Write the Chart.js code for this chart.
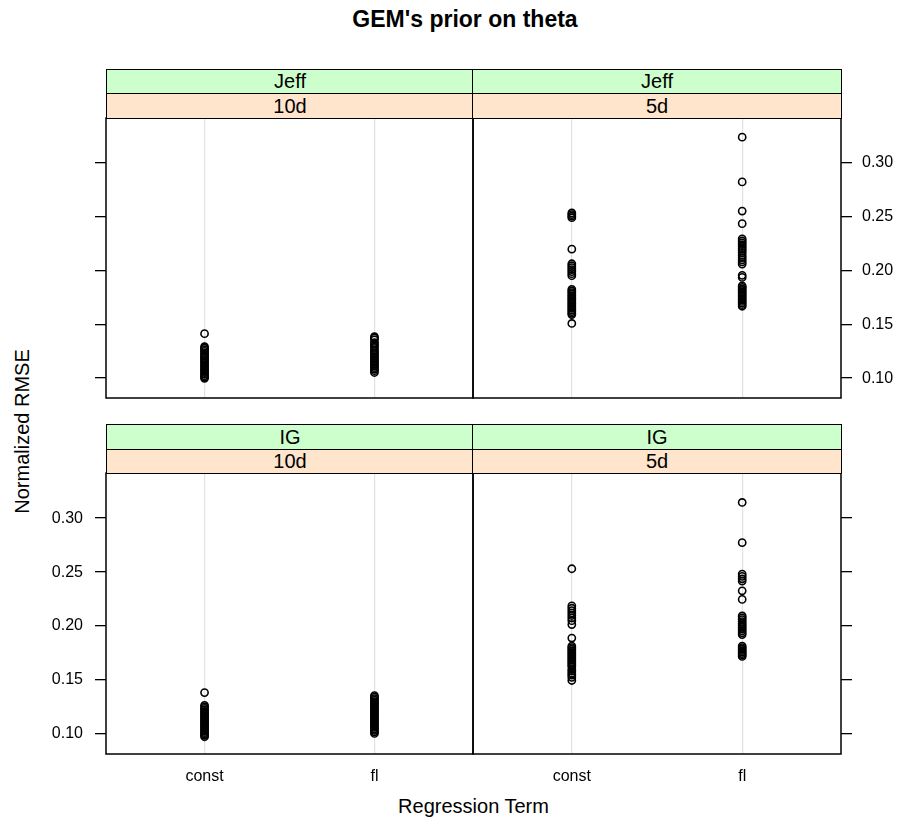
<!DOCTYPE html>
<html>
<head>
<meta charset="utf-8">
<script src="https://cdn.jsdelivr.net/npm/chart.js@4"></script>
<style>
  body { margin: 0; background: #fff; width: 902px; height: 825px; overflow: hidden; position: relative; font-family: "Liberation Sans", Arial, sans-serif; }
  canvas { position: absolute; }
  .strip { position: absolute; box-sizing: border-box; border: 1.5px solid #000; text-align: center; font-size: 20px; color: #000; }
  .green { background: #ccffcc; }
  .orange { background: #ffe5cc; }
  #titulo { position: absolute; top: 6px; left: 0; width: 930px; text-align: center; font-weight: bold; font-size: 23px; }
  #ejex { position: absolute; top: 795px; left: 106px; width: 735px; text-align: center; font-size: 20px; }
  #ejey { position: absolute; left: 22px; top: 432px; width: 300px; margin-left: -150px; margin-top: -12px; text-align: center; font-size: 20px; transform: rotate(-90deg); }
</style>
</head>
<body>
<div id="titulo">GEM's prior on theta</div>

<canvas id="panel_tl"></canvas>
<canvas id="panel_tr"></canvas>
<canvas id="panel_bl"></canvas>
<canvas id="panel_br"></canvas>

<div class="strip green" style="left:106px;top:69px;width:368px;height:25px;line-height:23px;">Jeff</div>
<div class="strip green" style="left:472px;top:69px;width:370px;height:25px;line-height:23px;">Jeff</div>
<div class="strip orange" style="left:106px;top:93px;width:368px;height:26px;line-height:24px;">10d</div>
<div class="strip orange" style="left:472px;top:93px;width:370px;height:26px;line-height:24px;">5d</div>

<div class="strip green" style="left:106px;top:424px;width:368px;height:26px;line-height:24px;">IG</div>
<div class="strip green" style="left:472px;top:424px;width:370px;height:26px;line-height:24px;">IG</div>
<div class="strip orange" style="left:106px;top:449px;width:368px;height:25px;line-height:23px;">10d</div>
<div class="strip orange" style="left:472px;top:449px;width:370px;height:25px;line-height:23px;">5d</div>

<div id="ejex">Regression Term</div>
<div id="ejey">Normalized RMSE</div>

<script>
// categorias del eje x
const categorias = ["const", "fl"];
const ticksY = [0.10, 0.15, 0.20, 0.25, 0.30];
const etiquetasY = ["0.10", "0.15", "0.20", "0.25", "0.30"];
const Y_MIN = 0.0815;
const Y_MAX = 0.3418;

// Jeff / 10d
const jeff10_const = [0.1413, 0.1292, 0.1278, 0.1262, 0.1249, 0.1233, 0.1220, 0.1205, 0.1190, 0.1183, 0.1168, 0.1152, 0.1140, 0.1124, 0.1110, 0.1095, 0.1080, 0.1066, 0.1051, 0.1037, 0.1022, 0.1010, 0.0998];
const jeff10_fl = [0.1385, 0.1372, 0.1356, 0.1330, 0.1316, 0.1300, 0.1285, 0.1262, 0.1248, 0.1233, 0.1218, 0.1202, 0.1188, 0.1173, 0.1158, 0.1143, 0.1128, 0.1113, 0.1098, 0.1084, 0.1069, 0.1052];

// Jeff / 5d
const jeff5_const = [0.2535, 0.2520, 0.2505, 0.2491, 0.2199, 0.2063, 0.2045, 0.2027, 0.2008, 0.1990, 0.1971, 0.1952, 0.1825, 0.1810, 0.1795, 0.1780, 0.1765, 0.1750, 0.1736, 0.1721, 0.1706, 0.1692, 0.1677, 0.1662, 0.1648, 0.1633, 0.1618, 0.1604, 0.1591, 0.1508];
const jeff5_fl = [0.3240, 0.2824, 0.2553, 0.2436, 0.2294, 0.2275, 0.2258, 0.2240, 0.2222, 0.2203, 0.2185, 0.2165, 0.2140, 0.2120, 0.2100, 0.2080, 0.2060, 0.1955, 0.1936, 0.1857, 0.1843, 0.1829, 0.1815, 0.1800, 0.1786, 0.1771, 0.1757, 0.1742, 0.1728, 0.1713, 0.1698, 0.1683, 0.1668];

// IG / 10d
const ig10_const = [0.1384, 0.1266, 0.1252, 0.1238, 0.1224, 0.1210, 0.1196, 0.1182, 0.1168, 0.1154, 0.1140, 0.1126, 0.1112, 0.1098, 0.1084, 0.1070, 0.1056, 0.1042, 0.1028, 0.1014, 0.1000, 0.0988, 0.0975];
const ig10_fl = [0.1356, 0.1342, 0.1328, 0.1314, 0.1300, 0.1286, 0.1272, 0.1258, 0.1244, 0.1230, 0.1216, 0.1202, 0.1188, 0.1174, 0.1160, 0.1146, 0.1132, 0.1118, 0.1104, 0.1090, 0.1076, 0.1062, 0.1048, 0.1034, 0.1020, 0.1006];

// IG / 5d
const ig5_const = [0.2531, 0.2187, 0.2165, 0.2143, 0.2120, 0.2098, 0.2075, 0.2050, 0.2014, 0.1889, 0.1815, 0.1800, 0.1786, 0.1771, 0.1757, 0.1742, 0.1728, 0.1713, 0.1698, 0.1684, 0.1669, 0.1654, 0.1640, 0.1625, 0.1600, 0.1582, 0.1563, 0.1545, 0.1525, 0.1496];
const ig5_fl = [0.3145, 0.2773, 0.2482, 0.2460, 0.2438, 0.2417, 0.2327, 0.2247, 0.2094, 0.2076, 0.2060, 0.2042, 0.2024, 0.2006, 0.1990, 0.1972, 0.1955, 0.1938, 0.1921, 0.1815, 0.1800, 0.1786, 0.1772, 0.1758, 0.1745, 0.1732, 0.1719];

const AX = 58;   // ancho eje y
const XH = 40;   // alto eje x con etiquetas
const P = 14;    // margen de los lados sin eje

// marco negro alrededor del area de dibujo
const marco = {
    id: 'marco',
    afterDraw(chart) {
        const a = chart.chartArea;
        const ctx = chart.ctx;
        ctx.save();
        ctx.strokeStyle = '#000';
        ctx.lineWidth = 1.5;
        ctx.strokeRect(a.left, a.top, a.right - a.left, a.bottom - a.top);
        ctx.restore();
    }
};

function puntos(valoresConst, valoresFl) {
    let lista = valoresConst.map(v => ({ x: 1, y: v }));
    return lista.concat(valoresFl.map(v => ({ x: 2, y: v })));
}

function dibujarPanel(id, x0, y0, x1, y1, ladoY, conEtiquetasY, conEtiquetasX, datos) {
    const canvas = document.getElementById(id);
    const ancho = (x1 - x0) + AX + P;
    const alto = (y1 - y0) + P + (conEtiquetasX ? XH : P);
    canvas.width = ancho;
    canvas.height = alto;
    canvas.style.left = (ladoY == 'left' ? x0 - AX : x0 - P) + 'px';
    canvas.style.top = (y0 - P) + 'px';

    new Chart(canvas.getContext('2d'), {
        type: 'scatter',
        data: {
            datasets: [{
                data: datos,
                pointStyle: 'circle',
                pointRadius: 3.6,
                pointBorderWidth: 1.6,
                borderColor: '#000',
                pointBorderColor: '#000',
                backgroundColor: 'rgba(0,0,0,0)',
                pointBackgroundColor: 'rgba(0,0,0,0)'
            }]
        },
        options: {
            responsive: false,
            animation: false,
            events: [],
            layout: {
                padding: {
                    top: P,
                    bottom: 0,
                    left: ladoY == 'left' ? 0 : P,
                    right: ladoY == 'left' ? P : 0
                }
            },
            plugins: { legend: { display: false }, tooltip: { enabled: false } },
            scales: {
                x: {
                    type: 'linear',
                    position: 'bottom',
                    min: 0.42,
                    max: 2.58,
                    afterBuildTicks: s => { s.ticks = [{ value: 1 }, { value: 2 }]; },
                    afterFit: s => {
                        s.height = conEtiquetasX ? XH : P;
                        s.paddingLeft = 0; s.paddingRight = 0;
                    },
                    grid: { color: '#e2e2e2', lineWidth: 1.2, drawTicks: false },
                    border: { display: false },
                    ticks: {
                        display: conEtiquetasX,
                        padding: 13,
                        color: '#000',
                        font: { family: '"Liberation Sans", Arial', size: 16 },
                        callback: v => categorias[v - 1]
                    }
                },
                y: {
                    type: 'linear',
                    position: ladoY,
                    min: Y_MIN,
                    max: Y_MAX,
                    afterBuildTicks: s => { s.ticks = ticksY.map(v => ({ value: v })); },
                    afterFit: s => {
                        s.width = AX;
                        s.paddingTop = 0; s.paddingBottom = 0;
                    },
                    grid: { drawOnChartArea: false, drawTicks: true, tickLength: 11, color: '#000', lineWidth: 1.3 },
                    border: { display: false },
                    ticks: {
                        display: conEtiquetasY,
                        padding: ladoY == 'left' ? 12 : 10,
                        color: '#000',
                        font: { family: '"Liberation Sans", Arial', size: 16 },
                        callback: (v, i) => etiquetasY[i]
                    }
                }
            }
        },
        plugins: [marco]
    });
}

dibujarPanel('panel_tl', 106, 118, 473, 398, 'left', false, false, puntos(jeff10_const, jeff10_fl));
dibujarPanel('panel_tr', 473, 118, 841, 398, 'right', true, false, puntos(jeff5_const, jeff5_fl));
dibujarPanel('panel_bl', 106, 473, 473, 754, 'left', true, true, puntos(ig10_const, ig10_fl));
dibujarPanel('panel_br', 473, 473, 841, 754, 'right', false, true, puntos(ig5_const, ig5_fl));
</script>
</body>
</html>
